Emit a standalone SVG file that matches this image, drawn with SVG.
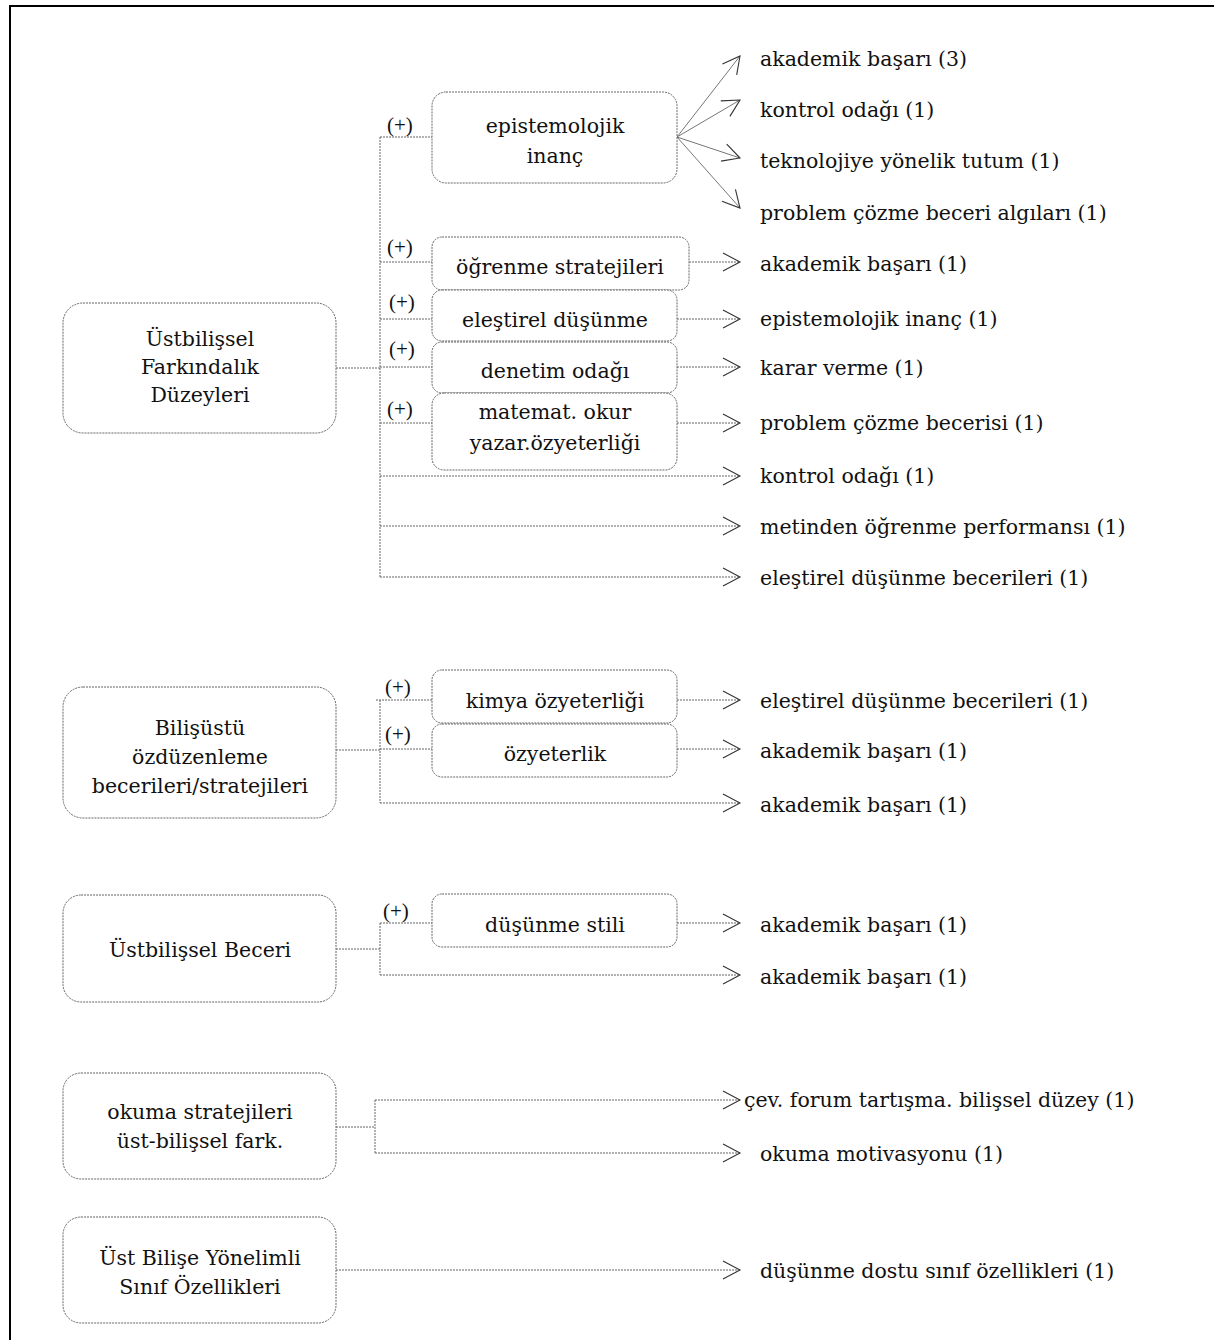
<svg xmlns="http://www.w3.org/2000/svg" width="1215" height="1340" viewBox="0 0 1215 1340">
<defs>
<style>
text{font-family:"DejaVu Serif","Liberation Serif",serif;font-size:20.5px;fill:#111}
text.p{font-family:"Liberation Serif","DejaVu Serif",serif;font-size:21px}
.c{text-anchor:middle}
.box{fill:#fff;stroke:#666;stroke-width:1;stroke-dasharray:2 1}
.d{fill:none;stroke:#666;stroke-width:1;stroke-dasharray:2 1}
.s{fill:none;stroke:#777;stroke-width:1}
.a{marker-end:url(#ah)}
</style>
<marker id="ah" markerUnits="userSpaceOnUse" markerWidth="22" markerHeight="24" viewBox="-20 -12 22 24" refX="0" refY="0" orient="auto" overflow="visible">
<path d="M-17,-9 L0,0 L-17,9" fill="none" stroke="#333" stroke-width="1.1" stroke-dasharray="none"/>
</marker>
</defs>
<rect width="1215" height="1340" fill="#fff"/>
<path d="M10,1340 V6 H1214" fill="none" stroke="#000" stroke-width="2"/>

<g id="connectors">
<path class="d" d="M336,368 H380 M380,137 V577 M380,137 H432 M380,262 H432 M380,319 H432 M380,367 H432 M380,423 H432"/>
<path class="d a" d="M689,262 H740"/>
<path class="d a" d="M677,319 H740"/>
<path class="d a" d="M677,367 H740"/>
<path class="d a" d="M677,423 H740"/>
<path class="d a" d="M380,476 H740"/>
<path class="d a" d="M380,526 H740"/>
<path class="d a" d="M380,577 H740"/>
<path class="s a" d="M677,137 L740,56"/>
<path class="s a" d="M677,137 L740,100"/>
<path class="s a" d="M677,137 L740,158"/>
<path class="s a" d="M677,137 L740,208"/>

<path class="d" d="M336,750 H380 M380,700 V803 M376,700 H432 M380,749 H432"/>
<path class="d a" d="M677,700 H740"/>
<path class="d a" d="M677,749 H740"/>
<path class="d a" d="M380,803 H740"/>

<path class="d" d="M336,949 H380 M380,923 V975 M380,923 H432"/>
<path class="d a" d="M677,923 H740"/>
<path class="d a" d="M380,975 H740"/>

<path class="d" d="M336,1127 H375 M375,1100 V1153"/>
<path class="d a" d="M375,1100 H740"/>
<path class="d a" d="M375,1153 H740"/>

<path class="d a" d="M336,1270 H740"/>

<text class="p" x="387" y="132">(+)</text>
<text class="p" x="387" y="254">(+)</text>
<text class="p" x="389" y="309">(+)</text>
<text class="p" x="389" y="356">(+)</text>
<text class="p" x="387" y="416">(+)</text>
<text class="p" x="385" y="694">(+)</text>
<text class="p" x="385" y="741">(+)</text>
<text class="p" x="383" y="918">(+)</text>
</g>

<g id="n1"><rect class="box" x="63" y="303" width="273" height="130" rx="20"/>
<text class="c" x="200" y="346">Üstbilişsel</text><text class="c" x="200" y="374">Farkındalık</text><text class="c" x="200" y="402">Düzeyleri</text></g>
<g id="n-epis"><rect class="box" x="432" y="92" width="245" height="91" rx="14"/>
<text class="c" x="555" y="133">epistemolojik</text><text class="c" x="555" y="163">inanç</text></g>
<g id="n-ogr"><rect class="box" x="432" y="237" width="257" height="53" rx="10"/>
<text class="c" x="560" y="274">öğrenme stratejileri</text></g>
<g id="n-ele"><rect class="box" x="432" y="290" width="245" height="51" rx="10"/>
<text class="c" x="555" y="327">eleştirel düşünme</text></g>
<g id="n-den"><rect class="box" x="432" y="342" width="245" height="51" rx="10"/>
<text class="c" x="555" y="378">denetim odağı</text></g>
<g id="n-mat"><rect class="box" x="432" y="393" width="245" height="77" rx="12"/>
<text class="c" x="555" y="419">matemat. okur</text><text class="c" x="555" y="450">yazar.özyeterliği</text></g>

<g id="t1">
<text x="760" y="66">akademik başarı (3)</text>
<text x="760" y="117">kontrol odağı (1)</text>
<text x="760" y="168">teknolojiye yönelik tutum (1)</text>
<text x="760" y="220">problem çözme beceri algıları (1)</text>
<text x="760" y="271">akademik başarı (1)</text>
<text x="760" y="326">epistemolojik inanç (1)</text>
<text x="760" y="375">karar verme (1)</text>
<text x="760" y="430">problem çözme becerisi (1)</text>
<text x="760" y="483">kontrol odağı (1)</text>
<text x="760" y="534">metinden öğrenme performansı (1)</text>
<text x="760" y="585">eleştirel düşünme becerileri (1)</text>
</g>

<g id="n2"><rect class="box" x="63" y="687" width="273" height="131" rx="20"/>
<text class="c" x="200" y="735">Bilişüstü</text><text class="c" x="200" y="764">özdüzenleme</text><text class="c" x="200" y="793">becerileri/stratejileri</text></g>
<g id="n-kim"><rect class="box" x="432" y="670" width="245" height="53" rx="10"/>
<text class="c" x="555" y="708">kimya özyeterliği</text></g>
<g id="n-ozy"><rect class="box" x="432" y="724" width="245" height="53" rx="10"/>
<text class="c" x="555" y="761">özyeterlik</text></g>
<g id="t2">
<text x="760" y="708">eleştirel düşünme becerileri (1)</text>
<text x="760" y="758">akademik başarı (1)</text>
<text x="760" y="812">akademik başarı (1)</text>
</g>

<g id="n3"><rect class="box" x="63" y="895" width="273" height="107" rx="18"/>
<text class="c" x="200" y="957">Üstbilişsel Beceri</text></g>
<g id="n-dus"><rect class="box" x="432" y="894" width="245" height="53" rx="10"/>
<text class="c" x="555" y="932">düşünme stili</text></g>
<g id="t3">
<text x="760" y="932">akademik başarı (1)</text>
<text x="760" y="984">akademik başarı (1)</text>
</g>

<g id="n4"><rect class="box" x="63" y="1073" width="273" height="106" rx="18"/>
<text class="c" x="200" y="1119">okuma stratejileri</text><text class="c" x="200" y="1148">üst-bilişsel fark.</text></g>
<g id="t4">
<text x="744" y="1107">çev. forum tartışma. bilişsel düzey (1)</text>
<text x="760" y="1161">okuma motivasyonu (1)</text>
</g>

<g id="n5"><rect class="box" x="63" y="1217" width="273" height="106" rx="18"/>
<text class="c" x="200" y="1265">Üst Bilişe Yönelimli</text><text class="c" x="200" y="1294">Sınıf Özellikleri</text></g>
<g id="t5">
<text x="760" y="1278">düşünme dostu sınıf özellikleri (1)</text>
</g>
</svg>
